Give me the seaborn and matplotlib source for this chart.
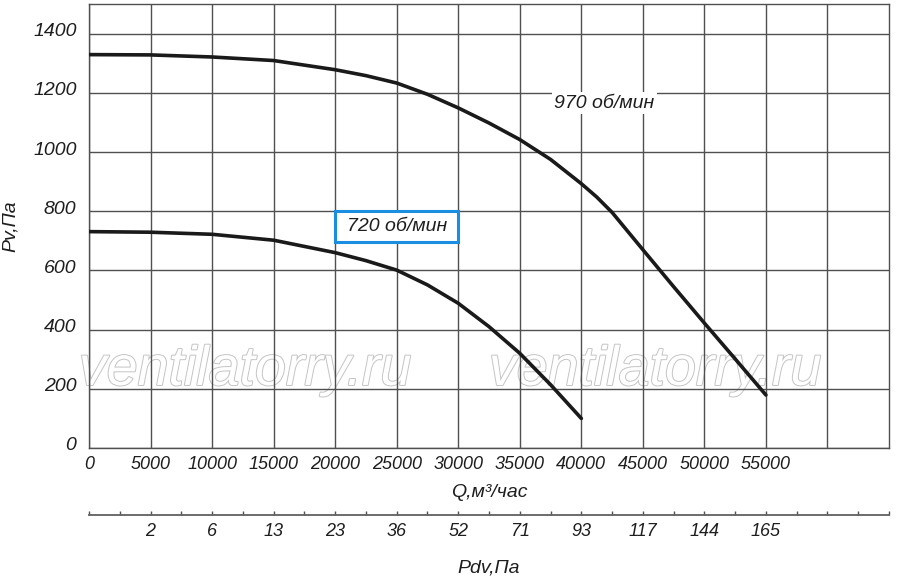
import matplotlib
matplotlib.use("Agg")
import matplotlib.pyplot as plt
import matplotlib.patheffects as pe
import matplotlib.transforms as mtrans
from matplotlib.patches import Rectangle
import seaborn as sns
import pandas as pd
import numpy as np

# ---- data ----
q_970 = [0, 5000, 10000, 15000, 20000, 22500, 25000, 27500, 30000, 32500, 35000,
         37500, 40000, 41250, 42500, 43750, 45000, 47500, 50000, 52500, 55000]
p_970 = [1329, 1328, 1321, 1309, 1278, 1258, 1233, 1195, 1149, 1098, 1042,
         975, 893, 848, 796, 733, 670, 545, 422, 301, 179]
q_720 = [0, 5000, 10000, 15000, 20000, 22500, 25000, 27500, 30000, 32500, 35000,
         37500, 40000]
p_720 = [731, 729, 722, 702, 660, 633, 601, 551, 489, 410, 320, 214, 100]

x_ticks = [0, 5000, 10000, 15000, 20000, 25000, 30000, 35000, 40000, 45000,
           50000, 55000, 60000]
x_labels = ["0", "5000", "10000", "15000", "20000", "25000", "30000", "35000",
            "40000", "45000", "50000", "55000", ""]
y_ticks = [0, 200, 400, 600, 800, 1000, 1200, 1400]
pdv_ticks = [5000, 10000, 15000, 20000, 25000, 30000, 35000, 40000, 45000, 50000, 55000]
pdv_labels = ["2", "6", "13", "23", "36", "52", "71", "93", "117", "144", "165"]
label_970 = "970 об/мин"
label_720 = "720 об/мин"
watermark = "ventilatorry.ru"

df = pd.concat([
    pd.DataFrame({"Q": q_970, "P": p_970, "n": label_970}),
    pd.DataFrame({"Q": q_720, "P": p_720, "n": label_720}),
])

sns.set_theme(style="white")
plt.rcParams["font.family"] = ["Liberation Sans", "DejaVu Sans"]
plt.rcParams["font.style"] = "italic"

fig = plt.figure(figsize=(9, 5.79), dpi=100)
ax = fig.add_axes([89 / 900, 131 / 579, 800 / 900, 444 / 579])

grid_c = "#505050"
txt_c = "#1e1e1e"

for name, sub in df.groupby("n", sort=False):
    sns.lineplot(data=sub, x="Q", y="P", ax=ax, color="#1a1a1a", linewidth=2.6,
                 sort=False, estimator=None, legend=False, zorder=3)

ax.set_xlim(0, 65000)
ax.set_ylim(0, 1500)
ax.set_xticks(x_ticks)
ax.set_xticklabels(x_labels)
ax.set_yticks(y_ticks)
ax.set_yticklabels([str(v) for v in y_ticks])
ax.set_axisbelow(True)
ax.grid(True, color=grid_c, linewidth=1.0)
for s in ax.spines.values():
    s.set_color(grid_c)
    s.set_linewidth(1.0)
ax.tick_params(axis="both", length=0, colors=txt_c)
ax.tick_params(axis="x", labelsize=13, pad=6)
ax.tick_params(axis="y", labelsize=14, pad=9)
for lbl in ax.get_xticklabels() + ax.get_yticklabels():
    lbl.set_fontstyle("italic")
off = mtrans.ScaledTranslation(0, 4 / 100, fig.dpi_scale_trans)
for lbl in ax.get_yticklabels():
    lbl.set_transform(lbl.get_transform() + off)

ax.set_xlabel("Q,м³/час", fontsize=14, fontstyle="italic", color=txt_c, labelpad=8)
ax.set_ylabel("Pv,Па", fontsize=14, fontstyle="italic", color=txt_c, labelpad=10)

# secondary (dynamic pressure) scale
sec = ax.secondary_xaxis((448 - 515) / 444)
sec.set_xticks(pdv_ticks)
sec.set_xticklabels(pdv_labels)
sec.set_xticks(np.arange(0, 65001, 2500), minor=True)
sec.tick_params(axis="x", which="both", direction="in", length=3, width=1,
                color=grid_c, labelsize=13, pad=6, labelcolor=txt_c)
sec.spines["bottom"].set_color("#606060")
sec.spines["bottom"].set_linewidth(1.3)
for lbl in sec.get_xticklabels():
    lbl.set_fontstyle("italic")
sec.set_xlabel("Pdv,Па", fontsize=14, fontstyle="italic", color=txt_c, labelpad=14)

# curve labels
ax.text(37800, 1165, label_970, fontsize=14, fontstyle="italic", color=txt_c,
        ha="left", va="center", zorder=2,
        bbox=dict(facecolor="white", edgecolor="none", pad=2))
ax.add_patch(Rectangle((20000, 697), 10000, 102, facecolor="white",
                       edgecolor="#1a8ee0", linewidth=2.2, zorder=4))
ax.text(25000, 748, label_720, fontsize=14, fontstyle="italic", color=txt_c,
        ha="center", va="center", zorder=5)

# watermark
for xc in (0.195, 0.7075):
    ax.text(xc, 0.142, watermark, transform=ax.transAxes, fontsize=40,
            fontstyle="italic", color="white", ha="center", va="baseline",
            zorder=0.3,
            path_effects=[pe.withStroke(linewidth=1.4, foreground="#c4c4c4")])

fig.savefig("out.png", dpi=100)
